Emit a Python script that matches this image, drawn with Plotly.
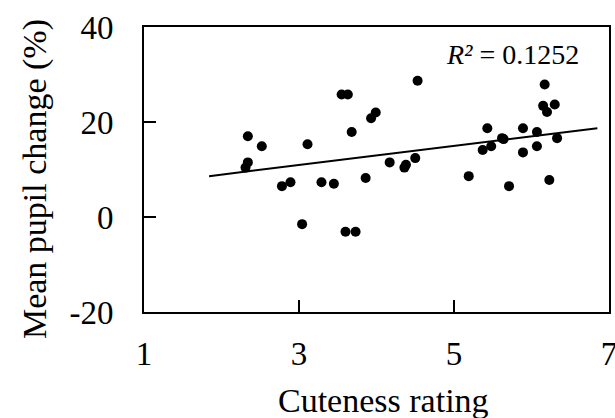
import plotly.graph_objects as go

cuteness = [2.31, 2.34, 2.34, 2.52, 2.78, 2.89, 3.04, 3.11, 3.29, 3.45,
            3.55, 3.63, 3.60, 3.73, 3.68, 3.86, 3.93, 3.99, 4.17, 4.36,
            4.38, 4.50, 4.53, 5.19, 5.37, 5.43, 5.48, 5.62, 5.64, 5.71,
            5.89, 5.89, 6.07, 6.07, 6.17, 6.15, 6.20, 6.30, 6.23, 6.33]
pupil = [10.4, 11.5, 17.0, 14.9, 6.5, 7.3, -1.5, 15.3, 7.3, 7.0,
         25.8, 25.8, -3.1, -3.1, 17.9, 8.2, 20.8, 22.0, 11.5, 10.4,
         11.0, 12.4, 28.7, 8.6, 14.1, 18.7, 14.9, 16.6, 16.4, 6.5,
         18.7, 13.6, 17.9, 14.9, 27.9, 23.4, 22.1, 23.7, 7.8, 16.6]

trend_x = [1.84, 6.85]
trend_y = [8.6, 18.7]

x_ticks = [1, 3, 5, 7]
y_ticks = [-20, 0, 20, 40]

FONT = "Liberation Serif, Times New Roman, serif"

fig = go.Figure()
fig.add_trace(go.Scatter(x=trend_x, y=trend_y, mode="lines",
                         line=dict(color="black", width=2), showlegend=False,
                         hoverinfo="skip"))
fig.add_trace(go.Scatter(x=cuteness, y=pupil, mode="markers",
                         marker=dict(color="black", size=10), showlegend=False))

axis_common = dict(showgrid=False, zeroline=False, showline=True,
                   linecolor="black", linewidth=2, mirror=True,
                   ticks="inside", ticklen=12, tickwidth=2, tickcolor="black",
                   ticklabeloverflow="allow", automargin=False,
                   tickfont=dict(family=FONT, size=33, color="black"))

fig.update_xaxes(range=[1, 7], tickvals=x_ticks, ticktext=[str(v) for v in x_ticks],
                 ticklabelstandoff=11, **axis_common)
fig.update_yaxes(range=[-20, 40], tickvals=y_ticks, ticktext=[str(v) for v in y_ticks],
                 ticklabelstandoff=22, **axis_common)

fig.add_annotation(text="Cuteness rating", xref="paper", yref="paper",
                   x=0.514, y=-0.31, xanchor="center", yanchor="middle",
                   showarrow=False, font=dict(family=FONT, size=34, color="black"))
fig.add_annotation(text="Mean pupil change (%)", xref="paper", yref="paper",
                   x=-0.234, y=0.467, xanchor="center", yanchor="middle", textangle=-90,
                   showarrow=False, font=dict(family=FONT, size=34, color="black"))
fig.add_annotation(text="<i>R²</i> = 0.1252", xref="paper", yref="paper",
                   x=0.940, y=0.905, xanchor="right", yanchor="middle",
                   showarrow=False, font=dict(family=FONT, size=28, color="black"))

fig.update_layout(width=615, height=418,
                  margin=dict(l=144, r=6, t=27, b=106, autoexpand=False),
                  paper_bgcolor="white", plot_bgcolor="white")

fig.write_html("out.html")
